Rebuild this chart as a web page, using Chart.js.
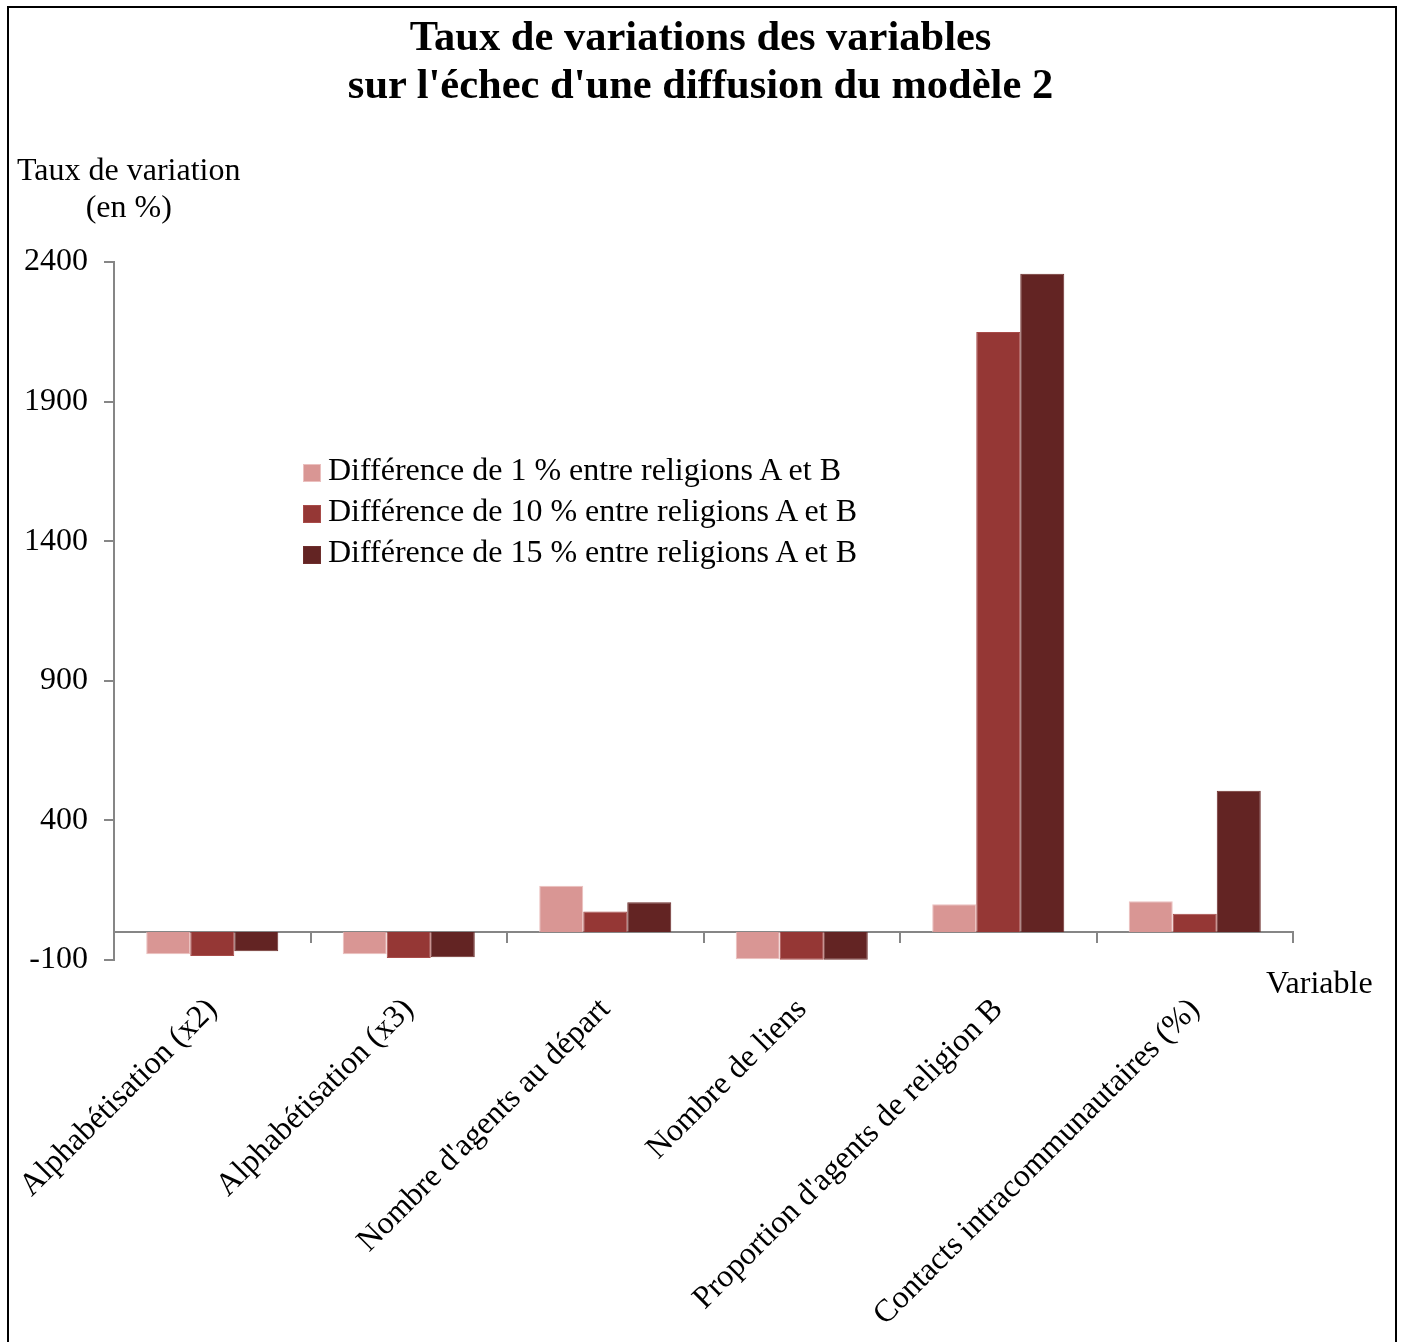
<!DOCTYPE html>
<html lang="fr">
<head>
<meta charset="utf-8">
<title>Taux de variations des variables</title>
<script src="https://cdn.jsdelivr.net/npm/chart.js@4.4.1/dist/chart.umd.min.js"></script>
<style>
  html, body { margin: 0; padding: 0; background: #fff; overflow: hidden; }
  body { width: 1401px; height: 1342px; position: relative; font-family: "Liberation Serif", "Times New Roman", serif; color: #000; }
  #frame { position: absolute; left: 7px; top: 6px; width: 1390px; height: 1400px; border: 2px solid #000; box-sizing: border-box; }
  #wrap { position: absolute; left: 0; top: 0; width: 1401px; height: 1342px; }
  .txt { position: absolute; white-space: nowrap; }
  #title { left: 0; width: 1401px; top: 12px; text-align: center; font-weight: bold; font-size: 42.5px; line-height: 48px; }
  #ytitle { left: 17px; top: 151px; font-size: 32px; line-height: 37px; text-align: center; }
  #xtitle { left: 1266px; top: 964px; font-size: 32px; line-height: 37px; }
  #legend { left: 304px; top: 449px; font-size: 32px; }
  #legend div { height: 41px; line-height: 41px; }
  #legend span.box { display: inline-block; width: 16px; height: 16px; margin-right: 8px; vertical-align: -1px; }
</style>
</head>
<body>
<div id="wrap"><canvas id="chart"></canvas></div>
<div id="frame"></div>
<div id="title" class="txt">Taux de variations des variables<br>sur l'échec d'une diffusion du modèle 2</div>
<div id="ytitle" class="txt">Taux de variation<br>(en %)</div>
<div id="xtitle" class="txt">Variable</div>
<div id="legend" class="txt"></div>
<script>
// catégories (axe des x)
const categories = [
    'Alphabétisation (x2)',
    'Alphabétisation (x3)',
    "Nombre d'agents au départ",
    'Nombre de liens',
    "Proportion d'agents de religion B",
    'Contacts intracommunautaires (%)'
];

const seriesNames = [
    'Différence de 1 % entre religions A et B',
    'Différence de 10 % entre religions A et B',
    'Différence de 15 % entre religions A et B'
];

// valeurs (en %)
const diff1 = [-79, -79, 166, -97, 100, 110];
const diff10 = [-86, -93, 74, -99, 2149, 66];
const diff15 = [-69, -90, 107, -99, 2358, 506];

const yTicks = [-100, 400, 900, 1400, 1900, 2400];

const fillColors = ['#D99694', '#953735', '#632423'];
const edgeColors = ['#EBC0BF', '#A84B49', '#6E2F2D'];

const axisGrey = '#868686';
const serif = '"Liberation Serif", "Times New Roman", serif';

const seriesValues = [diff1, diff10, diff15];

const datasets = seriesValues.map((vals, i) => ({
    label: seriesNames[i],
    data: vals,
    backgroundColor: fillColors[i],
    borderColor: edgeColors[i],
    borderWidth: 1,
    barPercentage: 1,
    categoryPercentage: 0.672,
    xAxisID: 'x'
}));

// légende html
const legendEl = document.getElementById('legend');
seriesNames.forEach((name, i) => {
    const row = document.createElement('div');
    const box = document.createElement('span');
    box.className = 'box';
    box.style.background = fillColors[i];
    box.style.outline = '1px solid ' + edgeColors[i];
    row.appendChild(box);
    row.appendChild(document.createTextNode(name));
    legendEl.appendChild(row);
});

const ctx = document.getElementById('chart');

const chart = new Chart(ctx, {
    type: 'bar',
    data: {
        labels: categories,
        datasets: datasets
    },
    options: {
        responsive: true,
        maintainAspectRatio: false,
        animation: false,
        layout: {
            padding: { left: 0, top: 262, right: 108, bottom: 0 }
        },
        plugins: {
            legend: { display: false },
            title: { display: false },
            tooltip: { enabled: false }
        },
        scales: {
            // axe au niveau du zéro : trait + graduations
            x: {
                type: 'category',
                position: { y: 0 },
                offset: true,
                border: { display: true, color: axisGrey, width: 2 },
                grid: {
                    display: true,
                    drawOnChartArea: false,
                    drawTicks: true,
                    tickLength: 10,
                    offset: true,
                    color: axisGrey,
                    lineWidth: 2
                },
                ticks: { display: false }
            },
            // libellés des catégories en bas
            x2: {
                type: 'category',
                position: 'bottom',
                offset: true,
                border: { display: false },
                grid: { display: false, drawTicks: false },
                ticks: {
                    autoSkip: false,
                    minRotation: 45,
                    maxRotation: 45,
                    padding: 31,
                    color: '#000',
                    font: { family: serif, size: 32 }
                },
                afterFit: (scale) => {
                    scale.height = 382;
                    scale.paddingLeft = 0;
                    scale.paddingRight = 0;
                }
            },
            y: {
                min: -100,
                max: 2400,
                border: { display: true, color: axisGrey, width: 2 },
                grid: {
                    display: true,
                    drawOnChartArea: false,
                    drawTicks: true,
                    tickLength: 10,
                    color: axisGrey,
                    lineWidth: 2
                },
                ticks: {
                    padding: 16,
                    color: '#000',
                    font: { family: serif, size: 32 },
                    callback: (value) => String(value)
                },
                afterBuildTicks: (scale) => {
                    scale.ticks = yTicks.map(v => ({ value: v }));
                },
                afterFit: (scale) => { scale.width = 114; }
            }
        }
    }
});
</script>
</body>
</html>
